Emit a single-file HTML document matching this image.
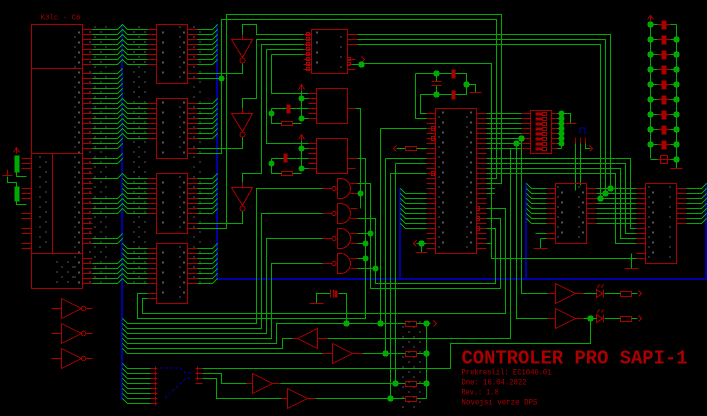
<!DOCTYPE html>
<html><head><meta charset="utf-8">
<style>
html,body{margin:0;padding:0;background:#000;width:707px;height:416px;overflow:hidden}
svg{display:block}
.r{stroke:#aa0000;fill:none;stroke-width:1}
.g{stroke:#00aa00;fill:none;stroke-width:1}
.b{stroke:#0000aa;fill:none;stroke-width:2}
.bt{stroke:#0000aa;fill:none;stroke-width:1}
.d{fill:#00aa00}
.rf{fill:#aa0000}
.t{font-family:"Liberation Mono",monospace;fill:#aa0000}
</style></head><body>
<svg xmlns="http://www.w3.org/2000/svg" width="707" height="416" viewBox="0 0 707 416" shape-rendering="crispEdges">
<defs>
<pattern id="pa" width="7" height="10" patternUnits="userSpaceOnUse"><rect x="1" y="1" width="1" height="2" fill="#aaaaaa"/><rect x="4" y="6" width="1" height="1" fill="#aaaaaa"/></pattern>
<pattern id="pb" width="11" height="10" patternUnits="userSpaceOnUse"><rect x="1" y="1" width="1" height="1" fill="#aaaaaa"/><rect x="6" y="6" width="1" height="1" fill="#aaaaaa"/></pattern>
</defs>
<rect width="707" height="416" fill="#000"/>

<!-- blue buses -->
<path class="b" d="M122 24V400 M217 24V279 M216 279H707 M400 188V279 M526 183V279 M706 183V279"/>
<path class="bt" stroke-dasharray="3,2" d="M160 368H180L186 373H192 M165 398L186 378H192"/>
<path class="bt" d="M580 134V128H585V134"/>

<g transform="translate(0.5,0.5)">
<!-- white pin marks -->
<g>
<rect x="73" y="27" width="7" height="258" fill="url(#pa)"/>
<rect x="35" y="155" width="14" height="95" fill="url(#pb)"/>
<rect x="55" y="258" width="20" height="25" fill="url(#pb)"/>
<rect x="86" y="26" width="20" height="258" fill="url(#pb)"/>
<rect x="130" y="26" width="16" height="260" fill="url(#pb)"/>
<rect x="159" y="26" width="5" height="55" fill="url(#pa)"/><rect x="179" y="26" width="5" height="55" fill="url(#pa)"/>
<rect x="159" y="100" width="5" height="56" fill="url(#pa)"/><rect x="179" y="100" width="5" height="56" fill="url(#pa)"/>
<rect x="159" y="175" width="5" height="56" fill="url(#pa)"/><rect x="179" y="175" width="5" height="56" fill="url(#pa)"/>
<rect x="159" y="245" width="5" height="56" fill="url(#pa)"/><rect x="179" y="245" width="5" height="56" fill="url(#pa)"/>
<rect x="190" y="26" width="14" height="260" fill="url(#pb)"/>
<rect x="313" y="31" width="6" height="40" fill="url(#pa)"/><rect x="338" y="31" width="6" height="40" fill="url(#pa)"/>
<rect x="438" y="110" width="6" height="141" fill="url(#pa)"/><rect x="466" y="110" width="6" height="141" fill="url(#pa)"/>
<rect x="557" y="185" width="6" height="56" fill="url(#pa)"/><rect x="577" y="185" width="6" height="56" fill="url(#pa)"/>
<rect x="647" y="185" width="6" height="76" fill="url(#pa)"/><rect x="667" y="185" width="6" height="76" fill="url(#pa)"/>
<rect x="400" y="320" width="20" height="90" fill="url(#pb)"/>
</g>

<!-- left chip -->
<path class="r" d="M31 24H82V288H31Z M31 68H82 M31 153H82 M31 253H82 M52 153V253"/>
<path class="r" d="M82 29h10M82 34h10M82 39h10M82 44h10M82 49h10M82 54h10M82 59h10M82 64h10M82 73h10M82 78h10M82 83h10M82 88h10M82 93h10M82 98h10M82 103h10M82 108h10M82 113h10M82 118h10M82 123h10M82 128h10M82 133h10M82 138h10M82 143h10M82 148h10M82 158h10M82 163h10M82 168h10M82 173h10M82 178h10M82 183h10M82 188h10M82 193h10M82 198h10M82 203h10M82 208h10M82 213h10M82 218h10M82 223h10M82 228h10M82 233h10M82 238h10M82 243h10M82 258h10M82 263h10M82 268h10M82 273h10M82 278h10M82 283h10"/>
<path class="g" d="M92 29h25l5-5M92 34h25l5-5M92 39h25l5-5M92 44h25l5-5M92 49h25l5-5M92 54h25l5-5M92 59h25l5-5M92 64h25l5-5M92 73h25l5-5M92 78h25l5-5M92 83h25l5-5M92 88h25l5-5M92 93h25l5-5M92 98h25l5-5M92 103h25l5-5M92 108h25l5-5M92 113h25l5-5M92 118h25l5-5M92 123h25l5-5M92 128h25l5-5M92 133h25l5-5M92 138h25l5-5M92 143h25l5-5M92 148h25l5-5M92 158h25l5-5M92 163h25l5-5M92 178h25l5-5M92 198h25l5-5M92 203h25l5-5M92 208h25l5-5M92 213h25l5-5M92 238h25l5-5M92 243h25l5-5M92 263h25l5-5M92 268h25l5-5M92 273h25l5-5M92 278h25l5-5M92 283h25l5-5"/>
<path class="r" d="M21 158h10M21 163h10M21 168h10M21 188h10M21 193h10M21 198h10M21 213h10M21 218h10M21 228h10M21 233h10M21 243h10M21 248h10 M2 175h10 M7 175v-6 M13 152l3-5l3 5M16 147v6"/>
<rect x="14" y="155" width="5" height="17" class="d"/><rect x="14" y="186" width="5" height="15" class="d"/>
<path class="g" d="M16 172v4h10 M16 186v-4h-9v-6 M16 201v3h10"/>
<text class="t" x="40" y="19" font-size="7" textLength="40" lengthAdjust="spacingAndGlyphs">K3lc - C6</text>

<!-- column 2 chips -->
<path class="r" d="M156 24H187V83H156Z M156 98H187V158H156Z M156 173H187V233H156Z M156 243H187V303H156Z"/>
<path class="g" d="M122 24l5 5h20M122 29l5 5h20M122 34l5 5h20M122 39l5 5h20M122 44l5 5h20M122 49l5 5h20M122 54l5 5h20M122 59l5 5h20M122 98l5 5h20M122 103l5 5h20M122 108l5 5h20M122 113l5 5h20M122 118l5 5h20M122 123l5 5h20M122 128l5 5h20M122 133l5 5h20M122 173l5 5h20M122 178l5 5h20M122 183l5 5h20M122 188l5 5h20M122 193l5 5h20M122 198l5 5h20M122 203l5 5h20M122 208l5 5h20M122 243l5 5h20M122 248l5 5h20M122 253l5 5h20M122 258l5 5h20M122 263l5 5h20M122 268l5 5h20M122 273l5 5h20M122 278l5 5h20"/>
<path class="r" d="M147 29h9M147 34h9M147 39h9M147 44h9M147 49h9M147 54h9M147 59h9M147 64h9M147 103h9M147 108h9M147 113h9M147 118h9M147 123h9M147 128h9M147 133h9M147 138h9M147 178h9M147 183h9M147 188h9M147 193h9M147 198h9M147 203h9M147 208h9M147 213h9M147 248h9M147 253h9M147 258h9M147 263h9M147 268h9M147 273h9M147 278h9M147 283h9M147 293h9M147 298h9"/>
<path class="r" d="M187 29h10M187 34h10M187 39h10M187 44h10M187 49h10M187 54h10M187 59h10M187 64h10M187 73h10M187 78h10M187 103h10M187 108h10M187 113h10M187 118h10M187 123h10M187 128h10M187 133h10M187 138h10M187 148h10M187 153h10M187 178h10M187 183h10M187 188h10M187 193h10M187 198h10M187 203h10M187 208h10M187 213h10M187 223h10M187 228h10M187 248h10M187 253h10M187 258h10M187 263h10M187 268h10M187 273h10M187 278h10M187 283h10"/>
<path class="g" d="M197 29h15l5-5M197 34h15l5-5M197 39h15l5-5M197 44h15l5-5M197 49h15l5-5M197 54h15l5-5M197 59h15l5-5M197 64h15l5-5M197 103h15l5-5M197 108h15l5-5M197 113h15l5-5M197 118h15l5-5M197 123h15l5-5M197 128h15l5-5M197 133h15l5-5M197 138h15l5-5M197 178h15l5-5M197 183h15l5-5M197 188h15l5-5M197 193h15l5-5M197 198h15l5-5M197 203h15l5-5M197 208h15l5-5M197 213h15l5-5M197 248h15l5-5M197 253h15l5-5M197 258h15l5-5M197 263h15l5-5M197 268h15l5-5M197 273h15l5-5M197 278h15l5-5M197 283h15l5-5"/>

<!-- inverters (down) -->
<path class="r" d="M231 39H252L242 57Z M231 113H252L242 131Z M231 187H252L242 205Z M242 34v5 M242 108v5 M242 182v5"/>
<circle cx="242" cy="60" r="2.5" class="r"/><circle cx="242" cy="134" r="2.5" class="r"/><circle cx="242" cy="208" r="2.5" class="r"/>
<path class="g" d="M242 34V24H256V34H303 M242 63V73H197 M197 78H221 M242 108V98H256V39H303 M242 137V148H197 M242 182V173H261V44H303 M242 211V223H197 M197 153H221V19H496V178H486 M197 228H226V14H501V183H486 M266 49H303 M266 49V143H316 M271 54H303 M271 54V93H316"/>
<circle cx="221" cy="78" r="3" class="d"/>

<!-- chip1 top -->
<path class="r" d="M311 29H347V73H311Z M303 34h8M303 39h8M303 44h8M303 49h8M303 54h8M303 59h8M303 64h8M303 69h8 M347 34h10M347 39h10M347 44h10M347 59h8M347 64h8M347 69h8 M361 56l3 3l-3 3"/>
<path class="r" d="M306 32h3v3h-3zM306 37h3v3h-3zM306 42h3v3h-3zM306 47h3v3h-3zM306 52h3v3h-3zM306 57h3v3h-3zM306 62h3v3h-3zM306 67h3v3h-3z M347 57h3v3h-3zM347 62h3v3h-3z"/>
<path class="g" d="M357 34H610V188 M357 39H605V193 M357 44H600V198 M351 64H361"/>
<circle cx="361" cy="64" r="3.2" class="d"/>

<!-- chip2, chip3 -->
<path class="r" d="M316 88H347V123H316Z M316 138H347V173H316Z M308 93h8M308 98h8M308 103h8M308 108h8M308 113h8M308 118h8 M308 143h8M308 148h8M308 153h8M308 158h8M308 163h8M308 168h8 M347 108h8 M347 158h10 M347 168h8 M298 89l3-5l3 5M301 84v6 M298 139l3-5l3 5M301 134v6"/>
<rect x="286" y="104" width="4" height="9" class="rf"/><rect x="283" y="153" width="4" height="9" class="rf"/>
<rect x="281" y="121" width="11" height="4" class="r"/><rect x="281" y="171" width="11" height="4" class="r"/>
<path class="g" d="M301 90V118H308 M271 108H286 M290 108H308 M271 108V123H281 M292 123H301 M301 98H308 M301 140V168H308 M271 158H283 M287 158H308 M271 158V173H281 M292 173H301 M301 148H308 M355 108H360V208"/>
<circle cx="301" cy="98" r="3" class="d"/><circle cx="271" cy="113" r="3" class="d"/><circle cx="301" cy="118" r="3" class="d"/>
<circle cx="301" cy="148" r="3" class="d"/><circle cx="271" cy="163" r="3" class="d"/><circle cx="301" cy="168" r="3" class="d"/>

<!-- NAND gates -->
<path class="r" d="M337 178h3a10 10 0 0 1 0 20h-3Z M337 203h3a10 10 0 0 1 0 20h-3Z M337 228h3a10 10 0 0 1 0 20h-3Z M337 253h3a10 10 0 0 1 0 20h-3Z M322 188h9M322 213h9M322 238h9M322 263h9 M350 183h7M350 193h7M350 208h7M350 218h7M350 233h7M350 243h7M350 258h7M350 268h7"/>
<circle cx="333.5" cy="188" r="2" class="r"/><circle cx="333.5" cy="213" r="2" class="r"/><circle cx="333.5" cy="238" r="2" class="r"/><circle cx="333.5" cy="263" r="2" class="r"/>
<path class="g" d="M122 318l5 5H256V188H322 M122 323l5 5H261V213H322 M122 328l5 5H266V238H322 M122 333l5 5H271V263H322 M357 193H360 M357 158H365V318H137V293H147 M357 233H370 M357 243H365 M357 258H365 M357 268H375 M486 208H505V313H142V298H147 M486 218H500V288H370V183H357 M486 228H495V283H375V218H357"/>
<circle cx="360" cy="193" r="3" class="d"/><circle cx="370" cy="233" r="3" class="d"/><circle cx="365" cy="243" r="3" class="d"/><circle cx="365" cy="258" r="3" class="d"/><circle cx="375" cy="268" r="3" class="d"/>

<!-- big chip -->
<path class="r" d="M435 108H476V253H435Z"/>
<path class="r" d="M426 113h9M426 118h9M426 123h9M426 128h9M426 133h9M426 138h9M426 143h9M426 148h9M426 153h9M426 158h9M426 163h9M426 168h9M426 173h9M426 178h9M426 183h9M426 188h9M426 193h9M426 198h9M426 203h9M426 208h9M426 213h9M426 218h9M426 223h9M426 228h9M426 233h9M426 238h9M426 243h9M426 248h9"/>
<path class="r" d="M476 113h10M476 118h10M476 123h10M476 128h10M476 133h10M476 138h10M476 143h10M476 148h10M476 153h10M476 158h10M476 163h10M476 168h10M476 173h10M476 178h10M476 183h10M476 188h10M476 193h10M476 198h10M476 203h10M476 208h10M476 213h10M476 218h10M476 223h10M476 228h10M476 233h10M476 238h10M476 243h10M476 248h10"/>
<path class="r" d="M431 126h3v4h-3zM431 136h3v4h-3zM431 171h3v4h-3z M476 206h3v4h-3zM476 216h3v4h-3zM476 226h3v4h-3z"/>
<path class="g" d="M400 188l5 5H426M400 193l5 5H426M400 198l5 5H426M400 203l5 5H426M400 208l5 5H426M400 213l5 5H426M400 218l5 5H426M400 223l5 5H426"/>
<path class="g" d="M415 73H451 M455 73H466V94H455 M451 94H420V113H426 M415 73V118H426 M436 73V81 M436 85V94 M466 84H475V92 M380 128H426 M380 128V323 M385 158H426 M385 158V353 M395 163H426 M395 163V383 M390 173H426 M390 173V398 M396 148H405 M416 148H426 M416 243H426 M421 243V252"/>
<rect x="451" y="69" width="4" height="9" class="rf"/><rect x="451" y="90" width="4" height="9" class="rf"/>
<path class="r" d="M431 81h10M431 85h10 M469 92h12 M415 252h12 M396 145l-3 3l3 3 M416 240l-3 3l3 3"/>
<rect x="405" y="146" width="11" height="4" class="r"/>
<circle cx="436" cy="73" r="3.2" class="d"/><circle cx="436" cy="94" r="3.2" class="d"/><circle cx="466" cy="84" r="3.2" class="d"/><circle cx="421" cy="243" r="3.2" class="d"/>

<!-- right of big chip -->
<path class="g" d="M486 113H521M486 118H521M486 123H521M486 128H521M486 133H521M486 138H521M486 143H521M486 148H521 M486 158H630V228H636 M486 163H625V233H636 M486 168H620V238H636 M486 173H615V243H636 M486 188h8M486 193h8 M486 243H491V63H361 M491 243V258H636 M521 138V293H547 M516 143V318H547 M486 148H510V338H327"/>
<path class="r" d="M521 113h9M521 118h9M521 123h9M521 128h9M521 133h9M521 138h9M521 143h9M521 148h9"/>
<circle cx="521" cy="138" r="3.2" class="d"/><circle cx="516" cy="143" r="3.2" class="d"/>

<!-- DIP switch -->
<path class="r" d="M530 110H551V153H530Z M551 113h6M551 118h6M551 123h6M551 128h6M551 133h6M551 138h6M551 143h6M551 148h6 M565 123h11 M575 137v6M580 137v6M585 137v6 M589 145l3 3l-3 3"/>
<g class="rf"><rect x="535" y="112" width="7" height="3"/><rect x="535" y="117" width="7" height="3"/><rect x="535" y="122" width="7" height="3"/><rect x="535" y="127" width="7" height="3"/><rect x="535" y="132" width="7" height="3"/><rect x="535" y="137" width="7" height="3"/><rect x="535" y="142" width="7" height="3"/><rect x="535" y="147" width="7" height="3"/></g>
<path class="r" d="M542 112h4v3h-4zM542 117h4v3h-4zM542 122h4v3h-4zM542 127h4v3h-4zM542 132h4v3h-4zM542 137h4v3h-4zM542 142h4v3h-4zM542 147h4v3h-4z"/>
<path class="g" d="M557 113h4M557 118h4M557 123h4M557 128h4M557 133h4M557 138h4M557 143h4M557 148h4 M561 113V148 M561 113H570V123 M575 143V190 M580 143V185 M585 143V148H590"/>
<circle cx="561" cy="113" r="3" class="d"/><circle cx="561" cy="118" r="3" class="d"/><circle cx="561" cy="123" r="3" class="d"/><circle cx="561" cy="128" r="3" class="d"/><circle cx="561" cy="133" r="3" class="d"/><circle cx="561" cy="138" r="3" class="d"/><circle cx="561" cy="143" r="3" class="d"/>

<!-- LED/resistor column -->
<path class="g" d="M650 24V158 M676 24V168 M650 24h7M650 39h7M650 54h7M650 69h7M650 84h7M650 99h7M650 114h7M650 129h7M650 144h7M650 159h7 M670 24h6M670 39h6M670 54h6M670 69h6M670 84h6M670 99h6M670 114h6M670 129h6M670 144h6M670 159h6"/>
<path class="r" d="M657 24h13M657 39h13M657 54h13M657 69h13M657 84h13M657 99h13M657 114h13M657 129h13M657 144h13M657 159h13 M647 19l3-4l3 4M650 15v9 M670 168h12"/>
<g class="rf"><rect x="661" y="20" width="5" height="9"/><rect x="661" y="35" width="5" height="9"/><rect x="661" y="50" width="5" height="9"/><rect x="661" y="65" width="5" height="9"/><rect x="661" y="80" width="5" height="9"/><rect x="661" y="95" width="5" height="9"/><rect x="661" y="110" width="5" height="9"/><rect x="661" y="125" width="5" height="9"/><rect x="661" y="140" width="5" height="9"/></g>
<rect x="660" y="155" width="7" height="8" class="r"/>
<g class="d"><circle cx="650" cy="24" r="3.2"/><circle cx="650" cy="39" r="3.2"/><circle cx="650" cy="54" r="3.2"/><circle cx="650" cy="69" r="3.2"/><circle cx="650" cy="84" r="3.2"/><circle cx="650" cy="99" r="3.2"/><circle cx="650" cy="114" r="3.2"/><circle cx="650" cy="129" r="3.2"/><circle cx="650" cy="144" r="3.2"/>
<circle cx="676" cy="39" r="3.2"/><circle cx="676" cy="54" r="3.2"/><circle cx="676" cy="69" r="3.2"/><circle cx="676" cy="84" r="3.2"/><circle cx="676" cy="99" r="3.2"/><circle cx="676" cy="114" r="3.2"/><circle cx="676" cy="129" r="3.2"/><circle cx="676" cy="144" r="3.2"/><circle cx="676" cy="159" r="3.2"/></g>

<!-- right chips A and B -->
<path class="r" d="M555 183H586V243H555Z M645 183H676V263H645Z"/>
<path class="g" d="M526 183l5 5H546M526 188l5 5H546M526 193l5 5H546M526 198l5 5H546M526 203l5 5H546M526 208l5 5H546M526 213l5 5H546M526 218l5 5H546 M535 233H546 M540 238H546 M540 238V248"/>
<path class="r" d="M546 188h9M546 193h9M546 198h9M546 203h9M546 208h9M546 213h9M546 218h9M546 223h9M546 233h9M546 238h9 M533 248h14"/>
<path class="r" d="M586 188h10M586 193h10M586 198h10M586 203h10M586 208h10M586 213h10M586 218h10M586 223h10 M636 188h9M636 193h9M636 198h9M636 203h9M636 208h9M636 213h9M636 218h9M636 223h9M636 228h9M636 233h9M636 238h9M636 243h9M636 253h9M636 258h9 M676 188h10M676 193h10M676 198h10M676 203h10M676 208h10M676 213h10M676 218h10M676 223h10 M624 268h14"/>
<path class="g" d="M596 188H636M596 193H636M596 198H636M596 203H636M596 208H636M596 213H636M596 218H636M596 223H636 M631 253V268 M686 188h15l5-5M686 193h15l5-5M686 198h15l5-5M686 203h15l5-5M686 208h15l5-5M686 213h15l5-5M686 218h15l5-5M686 223h15l5-5"/>
<circle cx="610" cy="188" r="3.2" class="d"/><circle cx="605" cy="193" r="3.2" class="d"/><circle cx="600" cy="198" r="3.2" class="d"/>

<!-- bottom right drivers -->
<path class="r" d="M555 283V303L575 293Z M555 308V328L575 318Z M547 293h8M547 318h8 M575 293h8M575 318h8 M596 289V297L602 293Z M603 289v8 M596 314V322L602 318Z M603 314v8 M638 290l3 3l-3 3 M638 315l3 3l-3 3 M597 287l2-3M601 287l2-3 M597 312l2-3M601 312l2-3"/>
<rect x="620" y="291" width="11" height="5" class="r"/><rect x="620" y="316" width="11" height="5" class="r"/>
<path class="g" d="M583 293H596 M604 293H620 M631 293H637 M583 318H596 M604 318H620 M631 318H637 M590 318V343H450V368H200"/>
<circle cx="590" cy="318" r="3.2" class="d"/>

<!-- bottom left inverters -->
<path class="r" d="M61 298V318L81 308Z M61 323V343L81 333Z M61 348V368L81 358Z M51 308h10M51 333h10M51 358h10 M85 308h7M85 333h7M85 358h7"/>
<circle cx="83" cy="308" r="2.3" class="r"/><circle cx="83" cy="333" r="2.3" class="r"/><circle cx="83" cy="358" r="2.3" class="r"/>

<!-- bottom middle -->
<path class="g" d="M122 338l5 5H276V323H405 M416 323H426V398 M122 343l5 5H282V338H292 M122 348l5 5H322 M362 353H405 M416 353H426 M327 338H340 M316 303V293H330 M338 293H346V323 M280 383H405 M416 383H426 M315 398H405 M416 398H426"/>
<path class="r" d="M297 338L317 328V348Z M292 338h5 M317 338h10 M332 343V363L352 353Z M322 353h10 M352 353h10 M309 303h14 M330 289v8M333 289v8 M433 320l3 3l-3 3"/>
<rect x="334" y="290" width="3" height="7" class="rf"/>
<rect x="405" y="321" width="11" height="5" class="r"/><rect x="405" y="351" width="11" height="5" class="r"/><rect x="405" y="381" width="11" height="5" class="r"/><rect x="405" y="396" width="11" height="5" class="r"/>
<path class="g" d="M416 323H430"/>
<g class="d"><circle cx="346" cy="323" r="3.2"/><circle cx="380" cy="323" r="3.2"/><circle cx="385" cy="353" r="3.2"/><circle cx="395" cy="383" r="3.2"/><circle cx="390" cy="398" r="3.2"/><circle cx="426" cy="323" r="3.2"/><circle cx="426" cy="353" r="3.2"/><circle cx="426" cy="383" r="3.2"/></g>

<!-- bottom bus group -->
<path class="g" d="M122 363l5 5H152M122 368l5 5H152M122 373l5 5H152M122 378l5 5H152M122 383l5 5H152M122 388l5 5H152M122 393l5 5H152M122 398l5 5H152 M200 368H450 M200 373H221V383H246 M200 378H216V398H281"/>
<path class="r" d="M150 368h7M150 373h7M150 378h7M150 383h7M150 388h7M150 393h7M150 398h7M150 403h7 M155 366v4M155 371v4M155 376v4M155 381v4M155 386v4M155 391v4M155 396v4M155 401v4 M195 368h7M195 373h7M195 378h7M195 383h7 M197 366v4M197 371v4M197 376v4 M252 373V393L272 383Z M246 383h6 M272 383h8 M287 388V408L307 398Z M281 398h6 M307 398h8"/>

<!-- title -->
<text class="t" x="461" y="363" font-size="19" font-weight="bold" textLength="226" lengthAdjust="spacingAndGlyphs">CONTROLER PRO SAPI-1</text>
<text class="t" x="461" y="374" font-size="8.5" textLength="90" lengthAdjust="spacingAndGlyphs">Prekreslil: EC1046.01</text>
<text class="t" x="461" y="384" font-size="8.5" textLength="65" lengthAdjust="spacingAndGlyphs">Dne: 16.04.2022</text>
<text class="t" x="461" y="394" font-size="8.5" textLength="37" lengthAdjust="spacingAndGlyphs">Rev.: 1.0</text>
<text class="t" x="461" y="404" font-size="8.5" textLength="76" lengthAdjust="spacingAndGlyphs">Novejsi verze DPS</text>
</g>
</svg>
</body></html>
